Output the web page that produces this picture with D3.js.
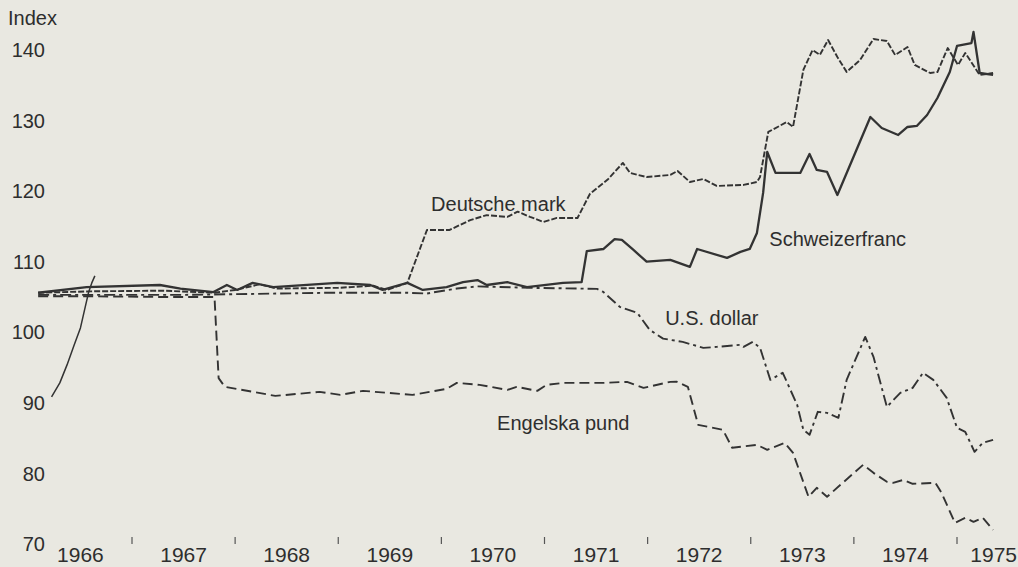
<!DOCTYPE html>
<html>
<head>
<meta charset="utf-8">
<script src="https://cdn.jsdelivr.net/npm/d3@7"></script>
<style>
  html, body { margin: 0; padding: 0; background: #e9e8e1; }
  svg { display: block; }
  text { font-family: "Liberation Sans", Arial, Helvetica, sans-serif; fill: #2e2e2e; }
</style>
</head>
<body>
<svg id="chart" width="1018" height="567"></svg>
<script>
// ---- data (decimal year, index value) ----
const yearLabels = [1966, 1967, 1968, 1969, 1970, 1971, 1972, 1973, 1974, 1975];
const yTicks = [70, 80, 90, 100, 110, 120, 130, 140];
const yTickLabels = ["70", "80", "90", "100", "110", "120", "130", "140"];

const schweizerfranc = [
  [1966.09,105.6],[1966.56,106.4],[1967.27,106.7],[1967.47,106.2],[1967.79,105.7],[1967.92,106.7],
  [1968.02,106.0],[1968.17,107.0],[1968.37,106.4],[1968.99,107.0],[1969.31,106.7],[1969.43,106.0],
  [1969.67,107.0],[1969.82,106.0],[1970.05,106.4],[1970.21,107.1],[1970.35,107.4],[1970.44,106.7],
  [1970.64,107.1],[1970.83,106.4],[1971.18,107.0],[1971.36,107.1],[1971.41,111.5],[1971.57,111.8],
  [1971.68,113.2],[1971.75,113.1],[1971.86,111.7],[1971.99,110.0],[1972.22,110.25],[1972.41,109.26],
  [1972.48,111.8],[1972.77,110.54],[1972.90,111.39],[1972.99,111.81],[1973.06,114.08],[1973.12,119.75],
  [1973.16,125.55],[1973.24,122.58],[1973.48,122.58],[1973.57,125.27],[1973.64,123.0],[1973.74,122.72],
  [1973.84,119.46],[1974.16,130.51],[1974.27,128.95],[1974.43,127.96],[1974.52,129.09],[1974.61,129.24],
  [1974.71,130.79],[1974.81,133.2],[1974.93,136.88],[1975.00,140.57],[1975.14,140.99],[1975.16,142.55],
  [1975.22,136.74],[1975.35,136.46]
];

const deutscheMark = [
  [1966.09,105.6],[1966.6,105.8],[1967.3,105.9],[1967.8,105.6],[1968.0,106.0],[1968.24,106.8],
  [1968.4,106.2],[1969.0,106.3],[1969.34,106.6],[1969.47,106.0],[1969.67,107.0],[1969.86,114.5],
  [1970.08,114.5],[1970.28,115.9],[1970.44,116.6],[1970.64,116.35],[1970.74,117.1],[1970.86,116.35],
  [1970.99,115.64],[1971.12,116.2],[1971.32,116.2],[1971.44,119.6],[1971.61,121.6],[1971.76,124.0],
  [1971.83,122.58],[1971.99,122.0],[1972.22,122.3],[1972.29,122.86],[1972.41,121.3],[1972.54,121.73],
  [1972.67,120.74],[1972.93,120.88],[1973.06,121.3],[1973.09,122.0],[1973.17,128.39],[1973.35,129.8],
  [1973.41,129.1],[1973.51,137.17],[1973.60,140.0],[1973.67,139.3],[1973.75,141.42],[1973.84,139.0],
  [1973.93,136.9],[1974.06,138.58],[1974.19,141.56],[1974.32,141.27],[1974.40,139.29],[1974.52,140.42],
  [1974.59,137.88],[1974.74,136.74],[1974.81,136.88],[1974.91,140.28],[1975.01,137.88],[1975.08,139.58],
  [1975.22,136.46],[1975.35,136.74]
];

const usDollar = [
  [1966.09,105.3],[1967.5,105.3],[1968.0,105.4],[1968.9,105.6],[1969.67,105.6],[1969.86,105.5],
  [1970.15,106.2],[1970.35,106.5],[1970.86,106.3],[1971.51,106.15],[1971.57,105.72],[1971.73,103.6],
  [1971.90,102.75],[1972.02,100.34],[1972.15,99.1],[1972.34,98.64],[1972.54,97.79],[1972.67,97.93],
  [1972.90,98.22],[1972.93,97.93],[1973.02,98.64],[1973.09,97.79],[1973.19,93.26],[1973.31,94.26],
  [1973.45,89.72],[1973.51,86.18],[1973.57,85.47],[1973.65,88.73],[1973.74,88.58],[1973.85,87.88],
  [1973.93,93.26],[1974.11,99.35],[1974.19,96.52],[1974.32,89.43],[1974.45,91.42],[1974.57,92.12],
  [1974.67,94.26],[1974.77,93.26],[1974.90,90.71],[1975.00,86.46],[1975.08,85.89],[1975.17,83.06],
  [1975.25,84.33],[1975.35,84.76]
];

const engelskaPund = [
  [1966.09,105.1],[1966.6,105.1],[1967.3,105.0],[1967.80,105.0],[1967.84,93.5],[1967.90,92.27],
  [1968.39,90.99],[1968.82,91.56],[1969.02,91.13],[1969.24,91.7],[1969.72,91.13],[1969.89,91.56],
  [1970.05,91.98],[1970.15,92.83],[1970.37,92.55],[1970.64,91.84],[1970.73,92.27],[1970.93,91.7],
  [1971.02,92.55],[1971.18,92.83],[1971.57,92.83],[1971.80,92.98],[1971.96,92.12],[1972.22,92.98],
  [1972.28,93.0],[1972.39,92.27],[1972.49,86.88],[1972.73,86.18],[1972.82,83.63],[1973.06,84.05],
  [1973.16,83.34],[1973.33,84.33],[1973.41,82.92],[1973.56,76.69],[1973.64,77.96],[1973.74,76.69],
  [1973.87,78.39],[1974.09,81.22],[1974.19,80.08],[1974.32,78.81],[1974.38,78.67],[1974.48,79.09],
  [1974.57,78.53],[1974.79,78.67],[1974.85,77.25],[1974.98,73.0],[1975.08,73.71],[1975.16,73.14],
  [1975.25,73.71],[1975.35,72.01]
];

// stray pointer stroke printed in the original, lower left
const pointerStroke = [
  [1966.22,90.85],[1966.30,92.83],[1966.37,95.38],[1966.44,98.22],[1966.50,100.62],
  [1966.54,103.17],[1966.58,105.72],[1966.61,107.0],[1966.64,107.99]
];

const seriesNames = ["Deutsche mark", "Schweizerfranc", "U.S. dollar", "Engelska pund"];

// ---- drawing ----
const W = 1018, H = 567;
const svg = d3.select("#chart");

const x = d3.scaleLinear().domain([1967, 1975]).range([132, 957]);
const y = d3.scaleLinear().domain([70, 140]).range([544, 50]);

const ink = "#333";
const line = d3.line().x(d => x(d[0])).y(d => y(d[1])).curve(d3.curveLinear);

function drawSeries(data, width, dash) {
  svg.append("path")
    .datum(data)
    .attr("d", line)
    .attr("fill", "none")
    .attr("stroke", ink)
    .attr("stroke-width", width)
    .attr("stroke-linejoin", "round")
    .attr("stroke-dasharray", dash);
}

drawSeries(engelskaPund, 1.9, "10,5");
drawSeries(usDollar, 1.9, "11,4,3,4");
drawSeries(deutscheMark, 1.9, "6,2");
drawSeries(schweizerfranc, 2.3, null);
drawSeries(pointerStroke, 1.5, null);

// y labels
svg.append("g").selectAll("text")
  .data(yTicks)
  .join("text")
  .attr("x", 45)
  .attr("y", d => y(d))
  .attr("dy", "0.36em")
  .attr("text-anchor", "end")
  .attr("font-size", 20)
  .text((d, i) => yTickLabels[i]);

svg.append("text")
  .attr("x", 8).attr("y", 25)
  .attr("font-size", 20)
  .text("Index");

// x ticks at year boundaries
svg.append("g").selectAll("line")
  .data(yearLabels.slice(1))
  .join("line")
  .attr("x1", d => x(d)).attr("x2", d => x(d))
  .attr("y1", 537).attr("y2", 544)
  .attr("stroke", "#555").attr("stroke-width", 1.2);

// year labels at mid-year (last one kept inside the frame)
const yearText = svg.append("g").selectAll("text")
  .data(yearLabels)
  .join("text")
  .attr("x", d => x(d + 0.5))
  .attr("y", 562)
  .attr("text-anchor", "middle")
  .attr("font-size", 21)
  .text(d => d);
yearText.each(function() {
  const b = this.getBBox();
  if (b.x + b.width > W - 1) {
    d3.select(this).attr("x", W - 1 - b.width / 2);
  }
});

// series labels
const labelPos = [
  { name: seriesNames[0], yr: 1969.9, v: 117.2 },
  { name: seriesNames[1], yr: 1973.18, v: 112.2 },
  { name: seriesNames[2], yr: 1972.17, v: 101.0 },
  { name: seriesNames[3], yr: 1970.54, v: 86.1 }
];
svg.append("g").selectAll("text")
  .data(labelPos)
  .join("text")
  .attr("x", d => x(d.yr))
  .attr("y", d => y(d.v))
  .attr("font-size", 20)
  .text(d => d.name);
</script>
</body>
</html>
